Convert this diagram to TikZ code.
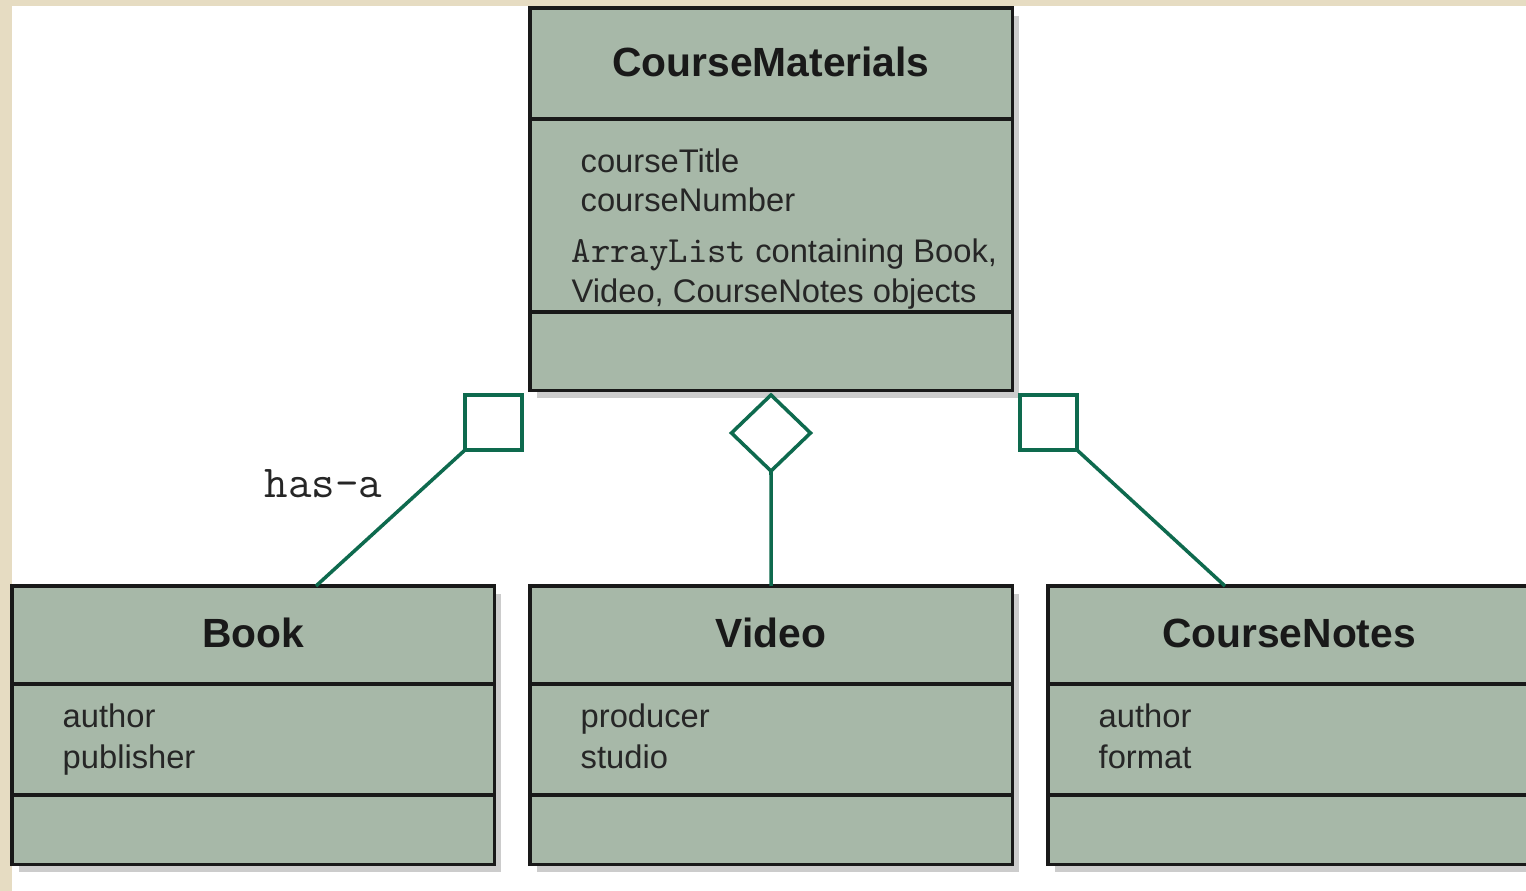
\documentclass[tikz,border=0pt]{standalone}
\usepackage{fontspec}
\setmainfont{Liberation Sans}
\usetikzlibrary{shapes.geometric,shadows,positioning}

\definecolor{sage}{HTML}{A7B8A8}
\definecolor{linkgreen}{HTML}{0E6A4E}
\definecolor{parchment}{HTML}{E6DCC2}

\tikzset{
	classbox/.style={rectangle, draw=black!90, line width=0.9pt, fill=sage, inner sep=0pt, outer sep=0pt,
		anchor=north west, minimum width=4.82cm,
		drop shadow={shadow xshift=0.07cm, shadow yshift=-0.08cm, fill=black!20, opacity=1}},
	divider/.style={draw=black!90, line width=0.9pt},
	classname/.style={font=\fontsize{11.6}{14}\selectfont\bfseries, text=black!90, anchor=base, inner sep=0pt},
	attr/.style={font=\fontsize{9.3}{11}\selectfont, text=black!85, anchor=base west, inner sep=0pt},
	assoc/.style={draw=linkgreen, line width=1pt},
	endbox/.style={rectangle, draw=linkgreen, fill=white, line width=1pt, outer sep=0pt,
		minimum width=0.57cm, minimum height=0.55cm, inner sep=0pt},
	enddiamond/.style={diamond, draw=linkgreen, fill=white, line width=1pt, outer sep=0pt,
		minimum width=0.79cm, minimum height=0.76cm, inner sep=0pt}
}

\begin{document}
\begin{tikzpicture}[x=0.01cm,y=-0.01cm]
	% Page and white sheet
	\useasboundingbox (0,0) rectangle (1526,891);
	\fill[parchment] (0,0) rectangle (1526,891);
	\fill[white] (12,6) rectangle (1526,891);
	\clip (0,0) rectangle (1526,891);

	% Class CourseMaterials
	\node[classbox, minimum height=3.82cm] (cm) at (530,8) {};
	\draw[divider] (530,119) -- (1012,119);
	\draw[divider] (530,312) -- (1012,312);
	\node[classname] (cm-name) at (771,77) {CourseMaterials};
	\node[attr] (cm-a1) at (580,173) {courseTitle};
	\node[attr] (cm-a2) at (580,212) {courseNumber};
	\node[attr] (cm-a3) at (571,263) {{\ttfamily\fontsize{10.5}{11}\selectfont ArrayList} containing Book,};
	\node[attr] (cm-a4) at (571,303) {Video, CourseNotes objects};

	% Classes Book, Video and CourseNotes
	\foreach \nm/\x/\ttl/\fa/\fb in {book/12/Book/author/publisher, video/530/Video/producer/studio, notes/1048/CourseNotes/author/format}{
		\node[classbox, minimum height=2.78cm] (\nm) at (\x,586) {};
		\draw[divider] (\x,684) -- (\x+482,684);
		\draw[divider] (\x,795) -- (\x+482,795);
		\node[classname] (\nm-name) at (\x+241,647) {\ttl};
		\node[attr] (\nm-a1) at (\x+50,728) {\fa};
		\node[attr] (\nm-a2) at (\x+50,768) {\fb};
	}

	% Ends of the links
	\node[endbox] (sq-book) at (493.5,422.5) {};
	\node[enddiamond] (dm-video) at (771,433) {};
	\node[endbox] (sq-notes) at (1048.5,422.5) {};
	\coordinate (book-top) at (316,586);
	\coordinate (notes-top) at (1225,586);

	% Links
	\draw[assoc] (sq-book.south west) -- (book-top);
	\draw[assoc] (dm-video.south) -- (video.north);
	\draw[assoc] (sq-notes.south east) -- (notes-top);

	% Label
	\node[font=\ttfamily\fontsize{13}{15}\selectfont, text=black!85, anchor=base west, inner sep=0pt] (hasa) at (264,498) {has-a};
\end{tikzpicture}
\end{document}
